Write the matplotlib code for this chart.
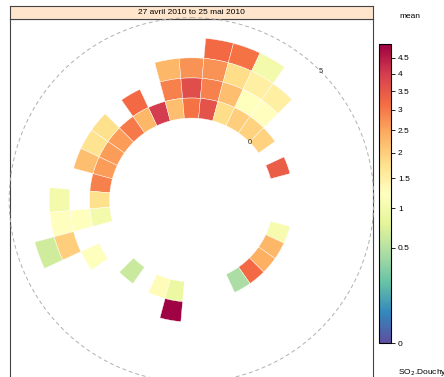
import numpy as np
import matplotlib
matplotlib.use("Agg")
import matplotlib.pyplot as plt
from matplotlib.colors import PowerNorm
from matplotlib.cm import ScalarMappable

plt.rcParams['font.family'] = ['Liberation Sans', 'DejaVu Sans']

# wind direction (deg), wind speed bin (lower edge), mean SO2
wd = [10, 20, 30,
      350, 0, 10, 20, 30, 40,
      330, 350, 0, 10, 20, 30, 40,
      340, 350, 0, 10, 20, 30, 40, 50, 70,
      330, 320, 310, 300, 290, 280, 270, 260,
      310, 300, 290, 260,
      270, 260, 250, 250, 240,
      220, 200, 190, 190,
      110, 120, 130, 140, 150]
ws = [3, 3, 3,
      2, 2, 2, 2, 2, 2,
      1, 1, 1, 1, 1, 1, 1,
      0, 0, 0, 0, 0, 0, 0, 0, 0,
      0, 0, 0, 0, 0, 0, 0, 0,
      1, 1, 1, 1,
      2, 2, 2, 3, 1,
      0, 0, 0, 1,
      0, 0, 0, 0, 0]
mean = [3.2, 3.1, 1.0,
        2.3, 2.7, 2.7, 1.8, 1.5, 1.5,
        3.2, 2.9, 3.7, 2.9, 2.2, 1.2, 1.25,
        4.0, 2.2, 3.1, 3.6, 1.8, 2.0, 1.95, 1.95, 3.4,
        2.3, 3.0, 2.6, 2.6, 2.6, 2.9, 1.75, 1.0,
        1.75, 1.7, 2.2, 1.2,
        1.0, 1.25, 2.0, 0.65, 1.2,
        0.6, 1.3, 0.9, 4.9,
        1.05, 2.3, 2.4, 3.2, 0.45]

offset = 4.08
rmax = 9.04
vmax = 4.94
cb_ticks = [0, 0.5, 1, 1.5, 2, 2.5, 3, 3.5, 4, 4.5]

W, H = 444, 377
fig = plt.figure(figsize=(W / 100, H / 100), dpi=100)

def fr(x0, y0, x1, y1):
    return [x0 / W, 1 - y1 / H, (x1 - x0) / W, (y1 - y0) / H]

# panel frame
panel = fig.add_axes(fr(10, 18.5, 373, 381.5))
panel.set_xticks([]); panel.set_yticks([])
for s in panel.spines.values():
    s.set_color('#444444'); s.set_linewidth(0.8)

# strip
strip = fig.add_axes(fr(10, 6, 373, 18.5))
strip.set_facecolor('#FFE5CC')
strip.set_xticks([]); strip.set_yticks([])
for s in strip.spines.values():
    s.set_color('#444444'); s.set_linewidth(0.8)
strip.text(0.5, 0.45, '27 avril 2010 to 25 mai 2010', ha='center', va='center',
           fontsize=6, transform=strip.transAxes)

# polar tiles
ax = fig.add_axes(fr(10, 18.5, 373, 381.5), projection='polar')
ax.set_theta_zero_location('N')
ax.set_theta_direction(-1)
ax.set_ylim(0, rmax)
ax.patch.set_alpha(0)
ax.grid(False)
ax.set_xticks([]); ax.set_yticks([])
ax.spines['polar'].set_visible(False)

cmap = plt.get_cmap('Spectral_r')
norm = PowerNorm(gamma=0.5, vmin=0, vmax=vmax)
ax.bar(np.deg2rad(wd), 1, width=np.deg2rad(10), bottom=offset + np.array(ws),
       color=cmap(norm(mean)), edgecolor='white', linewidth=0.3, align='center')

t = np.linspace(0, 2 * np.pi, 400)
ax.plot(t, np.full_like(t, offset + 5), color='#B0B0B0', lw=0.7,
        ls=(0, (4, 3)), clip_on=False)
ax.text(np.deg2rad(45), offset, '0', fontsize=5.5, ha='center', va='center', color='#333333')
ax.text(np.deg2rad(45), offset + 5, '5', fontsize=5.5, ha='center', va='center', color='#333333')

# colorbar
cax = fig.add_axes(fr(379, 44, 391, 343))
sm = ScalarMappable(norm=norm, cmap=cmap)
cb = fig.colorbar(sm, cax=cax, ticks=cb_ticks)
cb.set_ticklabels([f'{v:g}' for v in cb_ticks])
cb.outline.set_linewidth(0.8)
cax.tick_params(labelsize=6, length=3, width=0.6, pad=2)

fig.text(410 / W, 1 - 17 / H, 'mean', fontsize=6, ha='center', va='center')
fig.text(398 / W, 1 - 372 / H, r'SO$_2$.Douchy', fontsize=6, ha='left', va='center')

fig.savefig('out.png', dpi=100)
